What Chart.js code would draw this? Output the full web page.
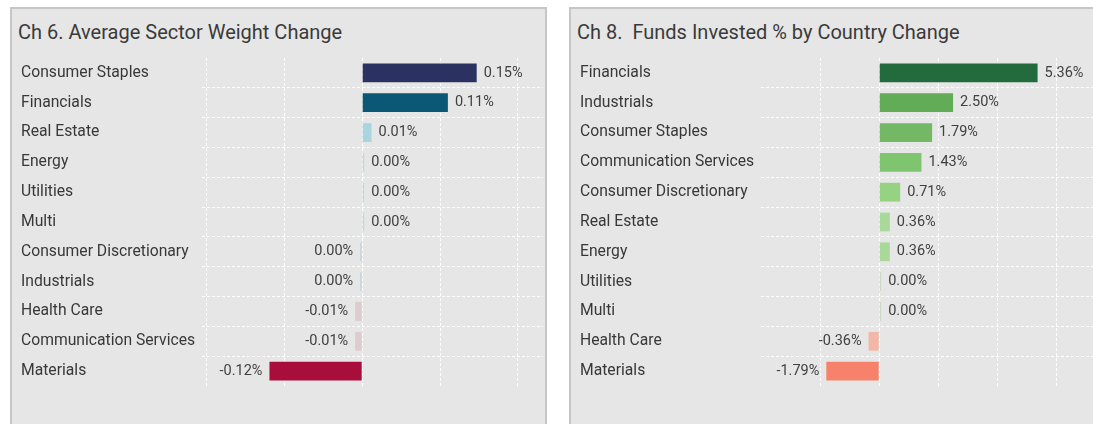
<!DOCTYPE html>
<html>
<head>
<meta charset="utf-8">
<script src="https://cdn.jsdelivr.net/npm/chart.js@4.4.1/dist/chart.umd.min.js"></script>
<style>
  html, body { margin: 0; padding: 0; background: #ffffff; overflow: hidden; width: 1093px; height: 424px; }
  .panel { position: absolute; top: 7px; width: 533px; height: 440px; background: #e6e6e6; border: 2px solid #c6c6c6; }
  .title { position: absolute; left: 6px; top: 11px; font-family: Roboto, "Noto Sans", sans-serif; font-size: 20px; line-height: 24px; color: #3a3a3a; white-space: pre; }
  canvas { position: absolute; left: 0; top: 0; }
</style>
</head>
<body>
<div class="panel" style="left:10px;">
  <div class="title">Ch 6. Average Sector Weight Change</div>
  <canvas id="c1" width="533" height="415"></canvas>
</div>
<div class="panel" style="left:569px;">
  <div class="title">Ch 8.  Funds Invested % by Country Change</div>
  <canvas id="c2" width="533" height="415"></canvas>
</div>
<script>
// ---- Chart 6 data ----
const sectorCategories = ['Consumer Staples','Financials','Real Estate','Energy','Utilities','Multi','Consumer Discretionary','Industrials','Health Care','Communication Services','Materials'];
const sectorValues = [0.147, 0.110, 0.012, 0.001, 0.001, 0.001, -0.001, -0.001, -0.009, -0.009, -0.119];
const sectorColors = ['#2b3160','#0b5876','#a9d5de','#c3d5dd','#c3d5dd','#c3d5dd','#c3d5dd','#c3d5dd','#dccbcf','#dccbcf','#a90d3b'];
const sectorTicks = [-0.2, -0.1, 0, 0.1, 0.2];
const sectorMin = -0.2056;
const sectorMax = 0.2321;

// ---- Chart 8 data ----
const countryCategories = ['Financials','Industrials','Consumer Staples','Communication Services','Consumer Discretionary','Real Estate','Energy','Utilities','Multi','Health Care','Materials'];
const countryValues = [5.36, 2.50, 1.79, 1.43, 0.71, 0.36, 0.36, 0.001, 0.001, -0.36, -1.79];
const countryColors = ['#236b3c','#62ab57','#73b965','#7fc46f','#95d382','#a9d89b','#a9d89b','#ccd8c6','#ccd8c6','#f3b7a7','#f7826c'];
const countryTicks = [-2, 0, 2, 4, 6];
const countryMin = -4;
const countryMax = 7.54;

const FONT = 'Roboto, "Noto Sans", sans-serif';

function fmt(v) {
  const r = Math.abs(v) < 0.005 ? 0 : v;
  return r.toFixed(2) + '%';
}

const valueLabels = {
  id: 'valueLabels',
  afterDatasetsDraw(chart) {
    const ctx = chart.ctx;
    const meta = chart.getDatasetMeta(0);
    const data = chart.data.datasets[0].data;
    ctx.save();
    ctx.font = '14.5px ' + FONT;
    ctx.fillStyle = '#404040';
    ctx.textBaseline = 'middle';
    meta.data.forEach((el, i) => {
      const v = data[i];
      if (v >= 0) { ctx.textAlign = 'left'; ctx.fillText(fmt(v), el.x + 7, el.y); }
      else { ctx.textAlign = 'right'; ctx.fillText(fmt(v), el.x - 7, el.y); }
    });
    ctx.restore();
  }
};

function makeChart(id, cats, vals, colors, ticks, min, max) {
  return new Chart(document.getElementById(id), {
    type: 'bar',
    data: {
      labels: cats,
      datasets: [{
        data: vals,
        backgroundColor: colors,
        borderWidth: 0,
        barPercentage: 0.63,
        categoryPercentage: 1,
        minBarLength: 2
      }]
    },
    options: {
      indexAxis: 'y',
      responsive: false,
      animation: false,
      events: [],
      layout: { padding: { left: 9, right: 2, top: 49, bottom: 38 } },
      plugins: { legend: { display: false }, tooltip: { enabled: false } },
      scales: {
        x: {
          type: 'linear',
          min: min,
          max: max,
          afterBuildTicks: (s) => { s.ticks = ticks.map(v => ({ value: v })); },
          afterFit: (s) => { s.height = 0; },
          ticks: { display: false },
          grid: { color: '#ffffff', lineWidth: 1, drawTicks: false },
          border: { display: false, dash: [3, 2] }
        },
        y: {
          type: 'category',
          afterFit: (s) => { s.width = 181; },
          ticks: {
            crossAlign: 'far',
            padding: 0,
            autoSkip: false,
            color: '#383838',
            font: { family: FONT, size: 15.7 }
          },
          grid: {
            offset: true,
            drawTicks: false,
            lineWidth: 1,
            color: (c) => (c.type === 'tick' && c.index > 0) ? '#ffffff' : 'rgba(0,0,0,0)'
          },
          border: { display: false, dash: [3, 2] }
        }
      }
    },
    plugins: [valueLabels]
  });
}

makeChart('c1', sectorCategories, sectorValues, sectorColors, sectorTicks, sectorMin, sectorMax);
makeChart('c2', countryCategories, countryValues, countryColors, countryTicks, countryMin, countryMax);
</script>
</body>
</html>
